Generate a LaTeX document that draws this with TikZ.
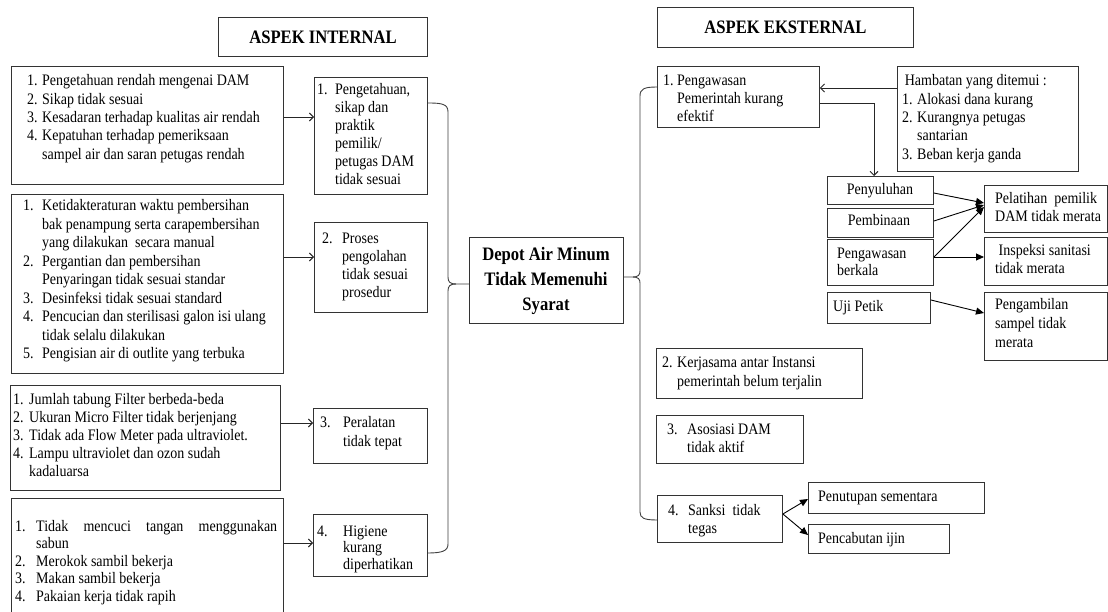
\documentclass[tikz,border=0pt]{standalone}
\usepackage{fontspec}
\setmainfont[FakeStretch=0.875]{Liberation Serif}
\usetikzlibrary{arrows.meta}
\newcommand{\lst}[3]{{\fontsize{16}{#1}\selectfont\begin{tabular}[t]{@{}p{#2}@{}l@{}}#3\end{tabular}}}
\newcommand{\tx}[2]{{\fontsize{16}{#1}\selectfont\begin{tabular}[t]{@{}l@{}}#2\end{tabular}}}
\newcommand{\bx}[5]{\node[box,minimum width=#4pt,minimum height=#5pt] (#1) at (#2,#3) {};}
\begin{document}
\begin{tikzpicture}[x=1pt,y=-1pt,
 box/.style={draw=black!80,line width=0.9pt,inner sep=0pt,anchor=north west},
 txt/.style={inner sep=0pt,anchor=base west,font=\fontsize{16}{18}\selectfont},
 ctxt/.style={inner sep=0pt,anchor=base,font=\fontsize{16}{18}\selectfont},
 head/.style={inner sep=0pt,font=\bfseries\fontsize{19}{20}\selectfont},
 brace/.style={draw=black!75,line width=0.9pt},
 barb/.style={draw=black!85,line width=0.9pt,-{Straight Barb[length=4pt,width=8pt]}},
 tri/.style={draw=black,line width=0.9pt,-{Triangle[length=8pt,width=7pt]}}]
\useasboundingbox (0,0) rectangle (1108,612);
\fill[white] (0,0) rectangle (1108,612);
% boxes
\bx{HI}{218}{17}{209}{39}
\bx{HE}{657}{7}{256}{40}
\bx{A1}{11}{66}{272}{118}
\bx{A2}{11}{194}{272}{179}
\bx{A3}{10}{385}{270}{105}
\bx{A4}{11}{498}{272}{125}
\bx{I1}{314}{77}{113}{117}
\bx{I2}{314}{222}{113}{90}
\bx{I3}{313}{408}{114}{55}
\bx{I4}{313}{514}{114}{62}
\bx{C}{469}{237}{154}{86}
\bx{E1}{657}{66}{162}{61}
\bx{H}{897}{66}{181}{105}
\bx{P1}{827}{176}{106}{28}
\bx{P2}{827}{208}{106}{29}
\bx{P3}{827}{239}{106}{46}
\bx{P4}{827}{292}{103}{31}
\bx{R1}{984}{185}{123}{47}
\bx{R2}{984}{237}{123}{48}
\bx{R3}{984}{292}{123}{68}
\bx{E2}{656}{348}{206}{50}
\bx{E3}{656}{415}{147}{48}
\bx{E4}{657}{495}{125}{47}
\bx{S1}{808}{482}{176}{31}
\bx{S2}{808}{524}{141}{29}
% headings
\node[head] (HIt) at (HI.center) {ASPEK INTERNAL};
\node[head] (HEt) at (HE.center) {ASPEK EKSTERNAL};
% left texts
\node[txt] (A1t) at (27,86) {\lst{18.3}{15pt}{1.&Pengetahuan rendah mengenai DAM\\2.&Sikap tidak sesuai\\3.&Kesadaran terhadap kualitas air rendah\\4.&Kepatuhan terhadap pemeriksaan\\&sampel air dan saran petugas rendah}};
\node[txt] (A2t) at (23,211) {\lst{18.5}{19pt}{1.&Ketidakteraturan waktu pembersihan\\&bak penampung serta carapembersihan\\&yang dilakukan\ \ secara manual\\2.&Pergantian dan pembersihan\\&Penyaringan tidak sesuai standar\\3.&Desinfeksi tidak sesuai standard\\4.&Pencucian dan sterilisasi galon isi ulang\\&tidak selalu dilakukan\\5.&Pengisian air di outlite yang terbuka}};
\node[txt] (A3t) at (13,404) {\lst{18}{16pt}{1.&Jumlah tabung Filter berbeda-beda\\2.&Ukuran Micro Filter tidak berjenjang\\3.&Tidak ada Flow Meter pada ultraviolet.\\4.&Lampu ultraviolet dan ozon sudah\\&kadaluarsa}};
\node[txt] (A4t) at (15,531) {\lst{17.5}{21pt}{1.&\makebox[241pt][s]{Tidak mencuci tangan menggunakan}\\&sabun\\2.&Merokok sambil bekerja\\3.&Makan sambil bekerja\\4.&Pakaian kerja tidak rapih}};
\node[txt] (I1t) at (317,94.5) {\lst{18}{18pt}{1.&Pengetahuan,\\&sikap dan\\&praktik\\&pemilik/\\&petugas DAM\\&tidak sesuai}};
\node[txt] (I2t) at (322,244) {\lst{17.7}{20pt}{2.&Proses\\&pengolahan\\&tidak sesuai\\&prosedur}};
\node[txt] (I3t) at (320,427) {\lst{19}{23pt}{3.&Peralatan\\&tidak tepat}};
\node[txt] (I4t) at (317,536) {\lst{16.5}{26pt}{4.&Higiene\\&kurang\\&diperhatikan}};
% center
\node[inner sep=0pt,anchor=base] (Ct) at (546,261) {\bfseries\fontsize{19}{25}\selectfont\begin{tabular}[t]{@{}c@{}}Depot Air Minum\\Tidak Memenuhi\\Syarat\end{tabular}};
% right texts
\node[txt] (E1t) at (663,86) {\lst{17.7}{14pt}{1.&Pengawasan\\&Pemerintah kurang\\&efektif}};
\node[txt] (Ht) at (902,86) {\lst{18.3}{15pt}{\multicolumn{2}{@{}l@{}}{\,Hambatan yang ditemui :}\\1.&Alokasi dana kurang\\2.&Kurangnya petugas\\&santarian\\3.&Beban kerja ganda}};
\node[ctxt] (P1t) at (880,195) {Penyuluhan};
\node[ctxt] (P2t) at (879,226) {Pembinaan};
\node[txt] (P3t) at (837,259) {\tx{17}{Pengawasan\\berkala}};
\node[txt] (P4t) at (833,311) {Uji Petik};
\node[txt] (R1t) at (995,204) {\tx{18}{Pelatihan\ \ pemilik\\DAM tidak merata}};
\node[txt] (R2t) at (995,256) {\tx{18}{\ Inspeksi sanitasi\\tidak merata}};
\node[txt] (R3t) at (995,309) {\tx{19}{Pengambilan\\sampel tidak\\merata}};
\node[txt] (E2t) at (662,367) {\lst{19}{15pt}{2.&Kerjasama antar Instansi\\&pemerintah belum terjalin}};
\node[txt] (E3t) at (667,434) {\lst{18}{20pt}{3.&Asosiasi DAM\\&tidak aktif}};
\node[txt] (E4t) at (668,515) {\lst{18}{20pt}{4.&Sanksi\ \ tidak\\&tegas}};
\node[txt] (S1t) at (818,501) {Penutupan sementara};
\node[txt] (S2t) at (818,543) {Pencabutan ijin};
% left arrows
\draw[barb] (A1.east|-0,117) -- (I1.west|-0,117);
\draw[barb] (A2.east|-0,257) -- (I2.west|-0,257);
\draw[barb] (A3.east|-0,423) -- (I3.west|-0,423);
\draw[barb] (A4.east|-0,543) -- (I4.west|-0,543);
% left brace
\draw[brace] (I1.east|-0,103) .. controls (442,103) and (448,104) .. (448,112) -- (448,277) .. controls (448,282) and (450,284) .. (456,284) -- (C.west|-0,284);
\draw[brace] (I4.east|-0,553) .. controls (442,553) and (448,551) .. (448,544) -- (448,291) .. controls (448,286) and (450,284) .. (456,284);
% right brace
\draw[brace] (E1.west|-0,87) .. controls (644,87) and (640,89) .. (640,96) -- (640,271) .. controls (640,275) and (638,277) .. (633,277) -- (C.east|-0,277);
\draw[brace] (E4.west|-0,520) .. controls (644,520) and (640,518) .. (640,512) -- (640,283) .. controls (640,279) and (638,277) .. (633,277);
% external arrows
\draw[barb] (H.west|-0,88) -- (E1.east|-0,88);
\draw[barb] (E1.east|-0,103) -| (P1.north-|874,0);
\draw[tri] (P1.east|-0,193) -- (R1.west|-0,203);
\draw[tri] (P2.east|-0,221) -- (R1.west|-0,205);
\draw[tri] (P3.east|-0,257) -- (R1.west|-0,207);
\draw[tri] (P3.east|-0,257) -- (R2.west|-0,257);
\draw[tri] (P4.east|-0,300) -- (R3.west|-0,313);
\draw[tri] (E4.east|-0,514) -- (S1.west|-0,499);
\draw[tri] (E4.east|-0,514) -- (S2.west|-0,535);
\end{tikzpicture}
\end{document}
